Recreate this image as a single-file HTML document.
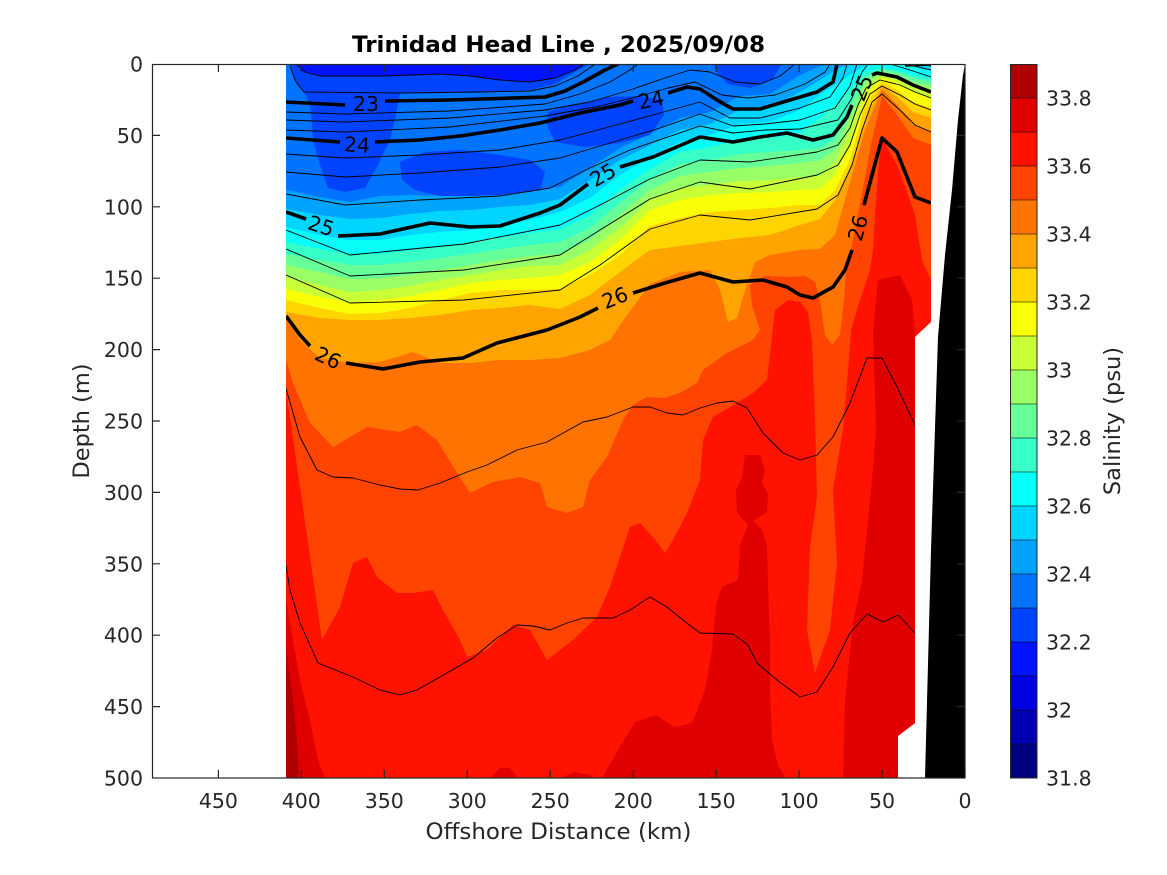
<!DOCTYPE html>
<html>
<head>
<meta charset="utf-8">
<style>
  html,body{margin:0;padding:0;background:#fff;}
  svg{display:block;}
  text{font-family:"DejaVu Sans","Liberation Sans",sans-serif;}
</style>
</head>
<body>
<svg width="1167" height="875" viewBox="0 0 1167 875" xmlns="http://www.w3.org/2000/svg">
  <rect x="0" y="0" width="1167" height="875" fill="#ffffff"/>
  <defs>
    <clipPath id="dc">
      <polygon points="286,64 931,64 931,322 915,337 915,723 898,736 898,778 286,778"/>
    </clipPath>
  </defs>

  <g clip-path="url(#dc)">
    <!-- base deep red band 18 -->
    <rect x="280" y="60" width="660" height="720" fill="#ff1200"/>
    <!-- deep darker patches -->
    <polygon fill="#e10000" points="286,600 300,680 310,720 318,760 325,778 286,778"/>
    <polygon fill="#b00000" points="286,650 292,690 297,740 299,778 286,778"/>
    <polygon fill="#e10000" points="745,455 760,455 765,470 762,482 768,495 767,512 753,521 762,530 767,545 768,585 770,640 770,690 772,740 778,765 786,778 602,778 618,750 635,722 656,715 674,727 692,723 705,690 712,650 716,605 722,587 738,580 740,545 748,525 737,513 736,490 742,478"/>
    <polygon fill="#e10000" points="490,778 500,768 510,768 518,778"/>
    <polygon fill="#e10000" points="560,778 575,772 590,775 595,778"/>
    <polygon fill="#e10000" points="878,280 900,275 912,300 915,330 915,778 843,778 845,700 853,623 862,580 867,530 872,480 876,430 873,330"/>

    <!-- S < 33.6 : band 17 -->
    <polygon fill="#ff4300" points="286,64 286,390 322,640 340,607 353,563 367,557 377,577 397,593 413,593 433,590 443,610 460,640 467,657 487,650 513,625 530,630 547,660 573,640 597,617 610,587 620,557 630,527 640,523 653,537 665,553 673,540 687,513 700,480 703,440 713,417 730,407 753,393 767,380 771,345 775,310 788,300 800,302 808,312 812,340 815,420 817,497 810,547 807,630 815,673 830,630 837,563 833,490 843,430 850,347 851,330 860,300 870,270 873,250 876,200 880,150 882,138 897,165 908,195 915,215 922,260 931,280 931,64"/>
    <!-- S < 33.5 : band 16 -->
    <polygon fill="#ff7300" points="286,64 286,360 293,383 310,423 333,447 367,427 400,432 417,425 437,440 457,473 470,493 493,482 520,477 540,483 547,507 567,513 583,507 590,480 607,457 623,420 633,405 647,397 665,398 680,393 697,383 703,370 727,353 753,340 760,330 752,305 750,285 765,276 790,277 805,276 815,282 820,300 825,335 832,345 840,335 844,300 846,270 850,255 856,225 863,188 872,140 882,96 897,115 913,138 931,145 931,64"/>
    <!-- S < 33.4 : band 15 -->
    <polygon fill="#ffa400" points="286,64 286,318 300,340 320,358 350,363 380,362 413,352 440,363 470,363 500,360 530,360 560,358 590,350 610,340 620,325 650,284 680,272 710,270 720,290 728,322 737,318 745,290 755,262 770,255 800,250 820,249 835,235 850,182 865,130 882,89 897,105 913,125 931,132 931,64"/>
    <!-- S < 33.3 : band 14 -->
    <polygon fill="#ffd500" points="286,64 286,312 320,318 350,320 380,320 410,318 440,315 470,310 500,308 530,305 560,309 590,295 620,272 650,250 680,246 710,242 740,238 770,235 800,225 820,219 835,200 850,170 865,120 882,85 897,97 913,112 931,118 931,64"/>
    <!-- S < 33.2 : band 13 -->
    <polygon fill="#f9ff06" points="286,64 286,300 320,308 350,314 380,313 410,308 440,300 470,293 500,290 530,290 560,289 590,275 620,255 650,226 680,218 710,212 740,210 770,208 800,205 820,205 835,190 850,160 865,105 882,81 897,90 913,102 931,108 931,64"/>
    <!-- S < 33.1 : band 12 -->
    <polygon fill="#c8ff37" points="286,64 286,289 320,297 350,302 380,300 410,296 440,290 470,283 500,280 530,278 560,275 590,262 620,240 650,210 680,200 710,195 740,193 770,192 800,190 820,189 835,175 850,145 865,95 882,78 897,82 913,92 931,98 931,64"/>
    <!-- S < 33.0 : band 11 -->
    <polygon fill="#98ff67" points="286,64 286,277 320,285 350,292 380,290 410,286 440,280 470,275 500,270 530,266 560,265 590,250 620,228 650,200 680,188 710,185 740,181 770,180 800,177 820,176 835,162 850,130 865,88 882,75 897,78 913,86 931,90 931,64"/>
    <!-- S < 32.9 : band 10 -->
    <polygon fill="#67ff98" points="286,64 286,265 320,272 350,279 380,278 410,275 440,270 470,265 500,260 530,256 560,254 590,240 620,215 650,190 680,176 710,172 740,168 770,166 800,163 820,160 835,150 850,117 865,82 882,72 897,75 913,82 931,86 931,64"/>
    <!-- S < 32.8 : band 9 -->
    <polygon fill="#37ffc8" points="286,64 286,254 320,260 350,265 380,265 410,262 440,258 470,254 500,249 530,245 560,242 590,228 620,203 650,179 680,164 710,160 740,154 770,152 800,150 820,148 835,138 850,105 865,77 882,70 897,72 913,78 931,82 931,64"/>
    <!-- S < 32.7 : band 8 -->
    <polygon fill="#06fff9" points="286,64 286,242 320,249 350,254 380,254 410,250 440,246 470,242 500,237 530,233 560,229 590,215 620,190 650,169 680,152 710,147 740,140 770,138 800,133 820,118 835,105 850,90 865,72 882,68 897,70 913,75 931,78 931,64"/>
    <!-- S < 32.6 : band 7 -->
    <polygon fill="#00d5ff" points="286,64 286,227 320,235 350,240 380,240 410,235 440,232 470,230 500,225 530,220 560,212 590,198 620,175 650,157 680,142 710,135 740,124 770,122 800,110 820,95 835,85 850,75 865,66 882,64 897,64 913,66 931,70 931,64"/>
    <!-- S < 32.5 : band 6 -->
    <polygon fill="#00a4ff" points="286,64 286,209 320,215 350,219 380,218 410,214 440,211 470,210 500,207 530,205 560,199 590,180 620,160 650,145 680,130 710,124 740,110 770,108 800,92 820,80 835,70 850,64 931,64"/>
    <!-- S < 32.4 : band 5 -->
    <polygon fill="#0073ff" points="286,64 286,190 320,197 350,202 380,196 410,195 440,196 470,196 500,194 530,192 560,187 590,168 620,148 650,134 680,118 710,112 740,96 770,94 800,75 820,66 835,64 931,64"/>
    <!-- band 4 patches -->
    <polygon fill="#0043ff" points="290,64 590,64 575,72 555,84 530,90 480,92 400,93 396,115 390,140 378,165 365,188 345,192 328,188 320,165 313,140 311,110 306,95 300,88 293,75"/>
    <polygon fill="#0043ff" points="400,162 425,152 460,150 500,155 530,160 545,172 540,190 505,195 470,196 440,196 415,190 402,180"/>
    <polygon fill="#0043ff" points="548,112 575,104 610,97 640,96 662,100 664,115 650,135 620,143 585,147 555,142 547,125"/>
    <polygon fill="#0043ff" points="713,64 782,64 772,80 750,88 728,84 718,74"/>
    <!-- band 3 patch -->
    <polygon fill="#0012ff" points="296,64 585,64 575,70 555,78 530,82 500,80 470,76 440,74 384,76 320,76 305,72"/>

    <!-- thin density contours -->
    <g fill="none" stroke="#000" stroke-width="0.9" stroke-linejoin="round">
      <polyline points="296,64 305,72 320,76 384,76 440,74 470,76 500,80 530,82 555,78 575,70 585,64"/>
      <polyline points="290,66 296,82 304,92 400,93 480,92 530,91 555,86 578,76 595,64"/>
      <polyline points="286,112 345,114 450,111 545,104 580,94 610,82 630,70 638,64"/>
      <polyline points="286,120 345,122 450,118 545,110 590,102 630,90 665,78 690,70 710,72 735,82 760,84 780,76 795,64"/>
      <polyline points="286,130 345,132 450,127 545,116 600,106 640,96 668,88 695,82 722,95 748,98 775,95 805,84 825,72 830,64"/>
      <polyline points="286,154 345,158 420,155 500,150 560,140 620,124 660,113 700,102 730,118 760,118 800,108 830,97 843,78 847,64"/>
      <polyline points="286,172 345,177 420,173 500,167 560,158 620,140 660,128 700,114 733,126 765,124 800,120 835,108 850,86 857,64"/>
      <polyline points="286,194 345,205 420,200 500,196 550,188 590,168 630,150 700,126 733,133 765,130 800,129 838,120 852,98 862,72 868,64"/>
      <polyline points="890,64 910,70 931,77"/>
      <polyline points="905,64 931,70"/>
      <polyline points="920,64 931,66"/>
      <polyline points="286,230 350,255 464,244 560,225 600,205 650,179 700,160 750,162 817,152 838,145 850,128 858,105 866,88 880,80 900,85 915,92 931,98"/>
      <polyline points="286,249 350,276 464,270 560,255 600,230 650,199 700,182 750,189 817,175 838,165 850,145 860,115 870,94 882,86 900,95 915,104 931,110"/>
      <polyline points="286,275 350,303 464,300 560,290 600,265 650,229 700,215 750,220 817,209 838,195 852,165 862,130 872,102 882,94 900,110 915,125 931,132"/>
      <polyline points="285,385 300,437 317,470 333,477 353,478 380,485 400,489 418,490 440,483 467,472 487,465 517,450 547,442 583,422 607,417 633,407 650,407 667,413 683,415 700,408 717,403 733,401 747,408 763,433 783,453 800,460 817,455 833,437 850,403 867,358 882,358 897,387 915,425"/>
      <polyline points="285,560 290,590 300,623 318,663 353,677 380,690 400,695 417,690 440,677 473,658 497,638 517,625 533,626 550,630 567,623 583,618 613,618 630,610 650,597 667,607 683,620 700,633 733,634 748,645 757,663 777,680 800,697 817,692 833,667 850,633 867,614 883,622 898,615 915,633"/>
    </g>
    <!-- thick density contours -->
    <g fill="none" stroke="#000" stroke-width="3.6" stroke-linejoin="round" stroke-linecap="butt">
      <polyline points="286,102 345,105"/>
      <polyline points="385,101 450,100 545,97 565,91 585,81 605,70 618,64"/>
      <polyline points="286,138 340,142"/>
      <polyline points="375,142 420,140 460,136 500,130 540,123 580,113 620,105 633,101"/>
      <polyline points="668,93 687,87 700,89 717,100 733,109 760,109 790,100 817,92 833,82 837,64"/>
      <polyline points="905,65 931,64"/>
      <polyline points="286,212 306,219"/>
      <polyline points="338,236 380,234 430,223 470,227 500,226 540,213 560,205 580,190 588,184"/>
      <polyline points="620,167 653,157 700,137 733,142 760,137 787,133 813,140 833,135 847,117 852,105"/>
      <polyline points="872,75 877,73 897,77 913,85 931,92"/>
      <polyline points="286,316 300,335 310,346"/>
      <polyline points="346,363 383,369 420,362 463,358 497,343 547,330 580,317 598,308"/>
      <polyline points="633,293 665,283 700,273 733,282 763,280 787,287 800,295 813,298 833,287 845,270 852,250"/>
      <polyline points="864,205 872,175 882,138 897,152 915,197 931,203"/>
    </g>
    <!-- contour labels -->
    <g font-size="20.5" fill="#000" text-anchor="middle" dominant-baseline="central">
      <text x="366" y="104">23</text>
      <text x="357" y="145" transform="rotate(4 357 145)">24</text>
      <text x="651" y="100" transform="rotate(-12 651 100)">24</text>
      <text x="321" y="226" transform="rotate(18 321 226)">25</text>
      <text x="603" y="175" transform="rotate(-30 603 175)">25</text>
      <text x="862" y="88" transform="rotate(-68 862 88)">25</text>
      <text x="328" y="358" transform="rotate(25 328 358)">26</text>
      <text x="615" y="298" transform="rotate(-22 615 298)">26</text>
      <text x="858" y="228" transform="rotate(-75 858 228)">26</text>
    </g>
  </g>

  <!-- bathymetry -->
  <polygon fill="#000" points="965,64 963,75 958,120 952,190 945,255 938,337 931,550 925,778 965,778"/>

  <!-- axes box and ticks -->
  <g stroke="#262626" stroke-width="1.2" fill="none">
    <rect x="152.5" y="64.5" width="812.5" height="713.5"/>
    <!-- x ticks bottom/top -->
    <path d="M218.4,778V770 M301.3,778V770 M384.3,778V770 M467.2,778V770 M550.2,778V770 M633.2,778V770 M716.1,778V770 M799.1,778V770 M882,778V770 M965,778V770
             M218.4,64V72 M301.3,64V72 M384.3,64V72 M467.2,64V72 M550.2,64V72 M633.2,64V72 M716.1,64V72 M799.1,64V72 M882,64V72"/>
    <!-- y ticks left/right -->
    <path d="M152,135.4H160 M152,206.8H160 M152,278.2H160 M152,349.6H160 M152,421H160 M152,492.4H160 M152,563.8H160 M152,635.2H160 M152,706.6H160
             M965,135.4H957 M965,206.8H957 M965,278.2H957 M965,349.6H957 M965,421H957 M965,492.4H957 M965,563.8H957 M965,635.2H957 M965,706.6H957"/>
  </g>

  <!-- x tick labels -->
  <g font-size="20.5" fill="#262626" text-anchor="middle">
    <text x="218.4" y="808">450</text>
    <text x="301.3" y="808">400</text>
    <text x="384.3" y="808">350</text>
    <text x="467.2" y="808">300</text>
    <text x="550.2" y="808">250</text>
    <text x="633.2" y="808">200</text>
    <text x="716.1" y="808">150</text>
    <text x="799.1" y="808">100</text>
    <text x="882" y="808">50</text>
    <text x="965" y="808">0</text>
  </g>
  <!-- y tick labels -->
  <g font-size="20.5" fill="#262626" text-anchor="end">
    <text x="143" y="71.5">0</text>
    <text x="143" y="142.9">50</text>
    <text x="143" y="214.3">100</text>
    <text x="143" y="285.7">150</text>
    <text x="143" y="357.1">200</text>
    <text x="143" y="428.5">250</text>
    <text x="143" y="499.9">300</text>
    <text x="143" y="571.3">350</text>
    <text x="143" y="642.7">400</text>
    <text x="143" y="714.1">450</text>
    <text x="143" y="785.5">500</text>
  </g>

  <!-- axis labels and title -->
  <text x="558.5" y="839" font-size="22.5" fill="#262626" text-anchor="middle" textLength="266" lengthAdjust="spacingAndGlyphs">Offshore Distance (km)</text>
  <text x="89" y="421" font-size="22.5" fill="#262626" text-anchor="middle" transform="rotate(-90 89 421)">Depth (m)</text>
  <text x="558.5" y="52" font-size="22.5" font-weight="bold" fill="#000" text-anchor="middle" textLength="413" lengthAdjust="spacingAndGlyphs">Trinidad Head Line , 2025/09/08</text>

  <!-- colorbar -->
  <g>
    <rect x="1010" y="744" width="27" height="34" fill="#000080"/>
    <rect x="1010" y="710" width="27" height="34" fill="#0000b0"/>
    <rect x="1010" y="676" width="27" height="34" fill="#0000e1"/>
    <rect x="1010" y="642" width="27" height="34" fill="#0012ff"/>
    <rect x="1010" y="608" width="27" height="34" fill="#0043ff"/>
    <rect x="1010" y="574" width="27" height="34" fill="#0073ff"/>
    <rect x="1010" y="540" width="27" height="34" fill="#00a4ff"/>
    <rect x="1010" y="506" width="27" height="34" fill="#00d5ff"/>
    <rect x="1010" y="472" width="27" height="34" fill="#06fff9"/>
    <rect x="1010" y="438" width="27" height="34" fill="#37ffc8"/>
    <rect x="1010" y="404" width="27" height="34" fill="#67ff98"/>
    <rect x="1010" y="370" width="27" height="34" fill="#98ff67"/>
    <rect x="1010" y="336" width="27" height="34" fill="#c8ff37"/>
    <rect x="1010" y="302" width="27" height="34" fill="#f9ff06"/>
    <rect x="1010" y="268" width="27" height="34" fill="#ffd500"/>
    <rect x="1010" y="234" width="27" height="34" fill="#ffa400"/>
    <rect x="1010" y="200" width="27" height="34" fill="#ff7300"/>
    <rect x="1010" y="166" width="27" height="34" fill="#ff4300"/>
    <rect x="1010" y="132" width="27" height="34" fill="#ff1200"/>
    <rect x="1010" y="98" width="27" height="34" fill="#e10000"/>
    <rect x="1010" y="64" width="27" height="34" fill="#b00000"/>
    <path stroke="#000" stroke-width="0.7" stroke-opacity="0.7" fill="none"
      d="M1010,98H1037 M1010,132H1037 M1010,166H1037 M1010,200H1037 M1010,234H1037 M1010,268H1037 M1010,302H1037 M1010,336H1037 M1010,370H1037 M1010,404H1037 M1010,438H1037 M1010,472H1037 M1010,506H1037 M1010,540H1037 M1010,574H1037 M1010,608H1037 M1010,642H1037 M1010,676H1037 M1010,710H1037 M1010,744H1037"/>
    <rect x="1010.5" y="64.5" width="26.5" height="713.5" fill="none" stroke="#262626" stroke-width="1"/>
  </g>
  <g font-size="20.5" fill="#262626" text-anchor="start">
    <text x="1046" y="785.5">31.8</text>
    <text x="1046" y="717.5">32</text>
    <text x="1046" y="649.5">32.2</text>
    <text x="1046" y="581.5">32.4</text>
    <text x="1046" y="513.5">32.6</text>
    <text x="1046" y="445.5">32.8</text>
    <text x="1046" y="377.5">33</text>
    <text x="1046" y="309.5">33.2</text>
    <text x="1046" y="241.5">33.4</text>
    <text x="1046" y="173.5">33.6</text>
    <text x="1046" y="105.5">33.8</text>
  </g>
  <text x="1120" y="421" font-size="22.5" fill="#262626" text-anchor="middle" transform="rotate(-90 1120 421)">Salinity (psu)</text>
</svg>
</body>
</html>
